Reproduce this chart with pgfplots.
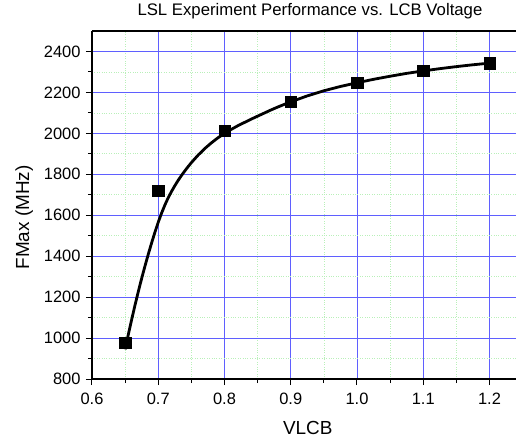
\documentclass[border=0pt]{standalone}
\usepackage{fontspec}
\setmainfont{Liberation Sans}
\usepackage{pgfplots}
\pgfplotsset{compat=1.18}
\usetikzlibrary{calc}
\definecolor{gridblue}{RGB}{95,95,255}
\definecolor{gridgreen}{RGB}{185,240,185}
\begin{document}
\begin{tikzpicture}
\begin{axis}[
  scale only axis, width=424bp, height=348bp,
  xmin=0.6, xmax=1.24, ymin=800, ymax=2500,
  axis x line=box, axis y line*=left,
  xtick={0.6,0.7,0.8,0.9,1.0,1.1,1.2},
  ytick={800,1000,1200,1400,1600,1800,2000,2200,2400},
  minor x tick num=1, minor y tick num=1,
  xtick pos=left, ytick pos=left,
  tick align=outside, major tick length=6bp, minor tick length=4bp,
  xticklabel style={/pgf/number format/fixed, /pgf/number format/fixed zerofill, /pgf/number format/precision=1, yshift=-5bp},
  yticklabel style={/pgf/number format/1000 sep={}, xshift=-2bp},
  /pgf/number format/assume math mode=true,
  tick label style={font=\fontsize{16.5}{19}\selectfont},
  grid=both,
  major grid style={gridblue, line width=0.8bp},
  minor grid style={gridgreen, dotted, line width=0.7bp},
  axis line style={black, line width=1.2bp},
  every tick/.style={black, line width=1bp},
  xlabel={VLCB}, ylabel={FMax (MHz)},
  xlabel style={at={(axis description cs:0.509,-0.14)}, anchor=center, font=\fontsize{19}{22}\selectfont},
  ylabel style={at={(axis description cs:-0.16,0.4645)}, anchor=center, font=\fontsize{19}{22}\selectfont},
  title={LSL Experiment Performance vs. LCB Voltage},
  title style={at={(axis description cs:0.514,1)}, anchor=base, yshift=9.6bp, font=\fontsize{16.8}{19}\selectfont},
]
\addplot[black, line width=2.8bp, line join=round, no markers] coordinates {
 (0.650,945) (0.655,1020) (0.660,1092) (0.665,1162) (0.670,1228) (0.675,1292)
 (0.680,1352) (0.685,1410) (0.690,1465) (0.695,1517) (0.700,1566) (0.705,1610)
 (0.710,1650) (0.715,1685) (0.720,1716) (0.725,1744) (0.730,1770) (0.735,1794)
 (0.740,1816) (0.745,1837) (0.750,1857) (0.760,1893) (0.770,1925) (0.780,1953)
 (0.790,1978) (0.800,2000) (0.810,2019) (0.820,2037) (0.830,2053) (0.840,2069)
 (0.850,2084) (0.860,2099) (0.870,2114) (0.880,2128) (0.890,2141) (0.900,2154)
 (0.925,2183) (0.950,2208) (0.975,2229) (1.000,2247) (1.025,2264) (1.050,2279)
 (1.075,2293) (1.100,2305) (1.125,2316) (1.150,2326) (1.175,2335) (1.200,2343)
};
\addplot[only marks, mark=square*, mark size=5.7bp, black] coordinates {
 (0.65,976) (0.7,1720) (0.8,2014) (0.9,2156) (1.0,2246) (1.1,2306) (1.2,2343)
};
\end{axis}
\pgfresetboundingbox
\path ($(current axis.south west)+(-92bp,-58.7bp)$) rectangle ($(current axis.north east)+(0bp,31bp)$);
\end{tikzpicture}
\end{document}
